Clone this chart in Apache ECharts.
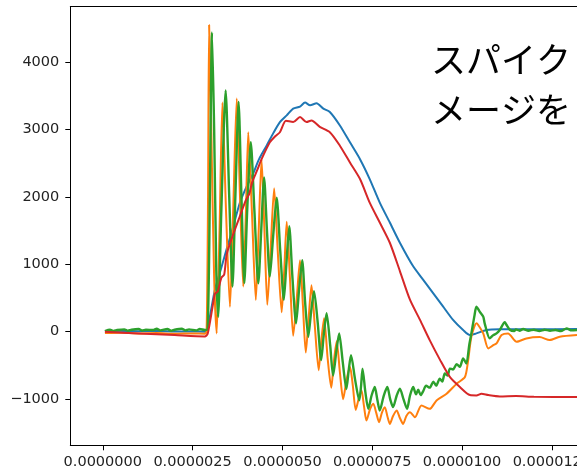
<!DOCTYPE html>
<html>
<head>
<meta charset="utf-8">
<script src="https://cdn.jsdelivr.net/npm/echarts@6/dist/echarts.min.js"></script>
<style>
  html, body { margin: 0; padding: 0; background: #fff; }
  #chart { width: 577px; height: 473px; }
</style>
</head>
<body>
<div id="chart"></div>
<script>
// time in microseconds (labels shown in seconds)
var xTicks = [0, 2.5, 5, 7.5, 10, 12.5]
var yTicks = [-1000, 0, 1000, 2000, 3000, 4000]
var noteText = 'スパイク\nメージを'

var blueData = [
  [0.06, 10], [0.5, 12], [1.0, 8], [1.5, 10], [2.0, 5], [2.5, 5], [2.84, 0], [2.92, 60],
  [3.12, 620], [3.3, 950], [3.45, 1230], [3.6, 1500], [3.82, 1920], [4.0, 2150], [4.18, 2340],
  [4.35, 2560], [4.56, 2760], [4.75, 2950], [4.93, 3110], [5.12, 3210], [5.3, 3310], [5.49, 3340],
  [5.63, 3400], [5.77, 3360], [5.95, 3390], [6.14, 3310], [6.32, 3260], [6.6, 3060], [6.88, 2810],
  [7.16, 2560], [7.43, 2265], [7.71, 1915], [7.99, 1620], [8.27, 1320], [8.64, 970], [8.92, 770],
  [9.2, 570], [9.47, 375], [9.75, 175], [10.03, 25], [10.22, -50], [10.4, -25], [10.68, 25],
  [11.05, 35], [11.97, 35], [13.2, 40]
]

var orangeData = [
  [0.06, -20], [0.5, -15], [1.0, -25], [1.5, -20], [2.0, -30], [2.5, -25], [2.84, -30], [2.89, 0],
  [2.93, 2000], [2.96, 4550], [3.02, 3000], [3.1, 800], [3.17, -25], [3.25, 1500], [3.33, 3400],
  [3.43, 1800], [3.54, 370], [3.63, 1800], [3.73, 3460], [3.82, 2000], [3.91, 670], [3.98, 1700],
  [4.05, 2960], [4.15, 1800], [4.26, 470], [4.34, 1500], [4.42, 2560], [4.5, 1500], [4.58, 400],
  [4.67, 1200], [4.77, 2130], [4.87, 1200], [4.98, 290], [5.05, 900], [5.12, 1630], [5.21, 800],
  [5.3, -60], [5.4, 500], [5.49, 1060], [5.57, 400], [5.65, -310], [5.73, 200], [5.81, 690],
  [5.9, 100], [6.01, -570], [6.08, -150], [6.16, 200], [6.26, -400], [6.36, -830], [6.43, -450],
  [6.51, -140], [6.6, -600], [6.69, -1000], [6.79, -700], [6.88, -520], [6.96, -800], [7.04, -1160],
  [7.12, -1000], [7.2, -870], [7.27, -1100], [7.34, -1318], [7.44, -1150], [7.53, -1069],
  [7.61, -1200], [7.69, -1343], [7.77, -1200], [7.85, -1119], [7.92, -1250], [7.99, -1368],
  [8.08, -1250], [8.18, -1169], [8.27, -1280], [8.36, -1368], [8.45, -1250], [8.55, -1194],
  [8.69, -1269], [8.87, -1094], [9.1, -1144], [9.29, -1019], [9.57, -920], [9.85, -771],
  [10.08, -672], [10.17, -423], [10.26, -75], [10.4, 125], [10.45, 100], [10.59, -25],
  [10.73, -248], [10.87, -200], [10.96, -174], [11.1, -50], [11.28, -25], [11.52, -149],
  [11.79, -99], [12.16, -80], [12.44, -124], [12.72, -75], [13.2, -50]
]

var greenData = [
  [0.06, 10], [0.2, 30], [0.3, 12], [0.4, 25], [0.6, 35], [0.7, 15], [0.8, 30], [1.0, 40],
  [1.1, 18], [1.2, 30], [1.4, 25], [1.5, 45], [1.6, 20], [1.8, 40], [1.9, 15], [2.0, 30],
  [2.2, 45], [2.3, 20], [2.4, 35], [2.6, 20], [2.7, 40], [2.84, 25], [2.92, 40],
  [2.98, 2000], [3.04, 4440], [3.1, 3000], [3.16, 900], [3.21, 220], [3.3, 1800], [3.42, 3580],
  [3.52, 2000], [3.61, 670], [3.69, 2000], [3.78, 3410], [3.86, 2000], [3.94, 720], [4.02, 1800],
  [4.12, 2810], [4.22, 1800], [4.33, 720], [4.41, 1500], [4.49, 2290], [4.57, 1500], [4.65, 820],
  [4.74, 1400], [4.84, 1990], [4.94, 1200], [5.04, 473], [5.11, 1000], [5.19, 1567], [5.28, 800],
  [5.38, 125], [5.46, 600], [5.55, 1060], [5.63, 450], [5.72, -75], [5.8, 300], [5.88, 600],
  [5.98, 150], [6.08, -420], [6.15, -50], [6.23, 274], [6.33, -200], [6.41, -650], [6.5, -300],
  [6.58, -25], [6.68, -450], [6.78, -850], [6.85, -550], [6.91, -348], [7.02, -700], [7.14, -1019],
  [7.19, -800], [7.23, -547], [7.31, -900], [7.39, -1144], [7.48, -950], [7.57, -821], [7.64, -1000],
  [7.71, -1169], [7.82, -950], [7.92, -821], [8.0, -1000], [8.08, -1119], [8.18, -950], [8.27, -845],
  [8.37, -1000], [8.47, -1144], [8.55, -950], [8.64, -821], [8.72, -930], [8.78, -860], [8.85, -940],
  [8.92, -880], [9.0, -800], [9.1, -830], [9.2, -740], [9.28, -800], [9.38, -697], [9.45, -740],
  [9.52, -620], [9.6, -650], [9.66, -547], [9.75, -560], [9.85, -480], [9.94, -520], [10.03, -397],
  [10.12, -472], [10.2, -200], [10.26, -25], [10.35, 250], [10.4, 373], [10.49, 299], [10.59, 224],
  [10.63, 125], [10.77, -99], [10.87, -50], [10.96, -25], [11.05, 25], [11.19, 140], [11.24, 100],
  [11.33, 30], [11.45, 10], [11.5, 35], [11.6, 15], [11.7, 40], [11.85, 15], [12.0, 30], [12.15, 10],
  [12.3, 30], [12.45, 15], [12.6, 25], [12.75, 10], [12.91, 50], [13.05, 20], [13.2, 25]
]

var redData = [
  [0.06, 0], [1.0, -25], [2.0, -50], [2.84, -70], [2.92, -30], [3.05, 350], [3.12, 560],
  [3.2, 600], [3.3, 800], [3.38, 850], [3.45, 1150], [3.6, 1400], [3.82, 1720], [3.98, 1950],
  [4.08, 2050], [4.16, 2220], [4.3, 2400], [4.42, 2560], [4.65, 2810], [4.8, 2900], [4.93, 2960],
  [5.1, 3130], [5.3, 3110], [5.49, 3185], [5.67, 3110], [5.81, 3135], [6.04, 3040], [6.32, 2960],
  [6.6, 2760], [6.88, 2510], [7.16, 2265], [7.43, 1915], [7.71, 1620], [7.99, 1320], [8.27, 900],
  [8.55, 475], [8.83, 175], [9.1, -125], [9.38, -410], [9.66, -670], [9.94, -820], [10.22, -940],
  [10.4, -945], [10.54, -920], [10.73, -940], [11.05, -960], [11.5, -955], [12.0, -965], [13.2, -970]
]

var chart = echarts.init(document.getElementById('chart'))

function lineSeries(name, data, color, width) {
  return {
    name: name,
    type: 'line',
    data: data,
    showSymbol: false,
    smooth: 0.25,
    lineStyle: { color: color, width: width },
    itemStyle: { color: color }
  }
}

var axisFont = { fontFamily: 'DejaVu Sans', fontSize: 14.5, color: '#222' }

chart.setOption({
  animation: false,
  grid: { left: 70.3, right: 0, top: 6.7, bottom: 27.7, outerBoundsMode: 'none', containLabel: false },
  xAxis: [
    {
      type: 'value',
      min: -0.904,
      max: 13.2,
      splitLine: { show: false },
      axisLine: { onZero: false, lineStyle: { color: '#000', width: 1 } },
      axisTick: { inside: false, length: 5, customValues: xTicks, lineStyle: { color: '#000' } },
      axisLabel: Object.assign({
        margin: 9,
        customValues: xTicks,
        formatter: function (v) { return (v * 1e-6).toFixed(7) }
      }, axisFont)
    },
    {
      type: 'value',
      position: 'top',
      min: -0.904,
      max: 13.2,
      splitLine: { show: false },
      axisLine: { show: true, onZero: false, lineStyle: { color: '#000', width: 1 } },
      axisTick: { show: false },
      axisLabel: { show: false }
    }
  ],
  yAxis: {
    type: 'value',
    min: -1685,
    max: 4822,
    splitLine: { show: false },
    axisLine: { show: true, onZero: false, lineStyle: { color: '#000', width: 1 } },
    axisTick: { show: true, inside: false, length: 5, customValues: yTicks, lineStyle: { color: '#000' } },
    axisLabel: Object.assign({
      margin: 11,
      customValues: yTicks,
      formatter: function (v) { return v < 0 ? '\u2212' + Math.abs(v) : String(v) }
    }, axisFont)
  },
  graphic: [
    {
      type: 'text',
      left: 431,
      top: 35,
      style: {
        text: noteText,
        fontFamily: 'Noto Sans CJK JP',
        fontSize: 35,
        lineHeight: 50,
        fill: '#000'
      }
    }
  ],
  series: [
    lineSeries('blue', blueData, '#1f77b4', 2),
    lineSeries('orange', orangeData, '#ff7f0e', 2),
    lineSeries('green', greenData, '#2ca02c', 2.4),
    lineSeries('red', redData, '#d62728', 2)
  ]
})
</script>
</body>
</html>
